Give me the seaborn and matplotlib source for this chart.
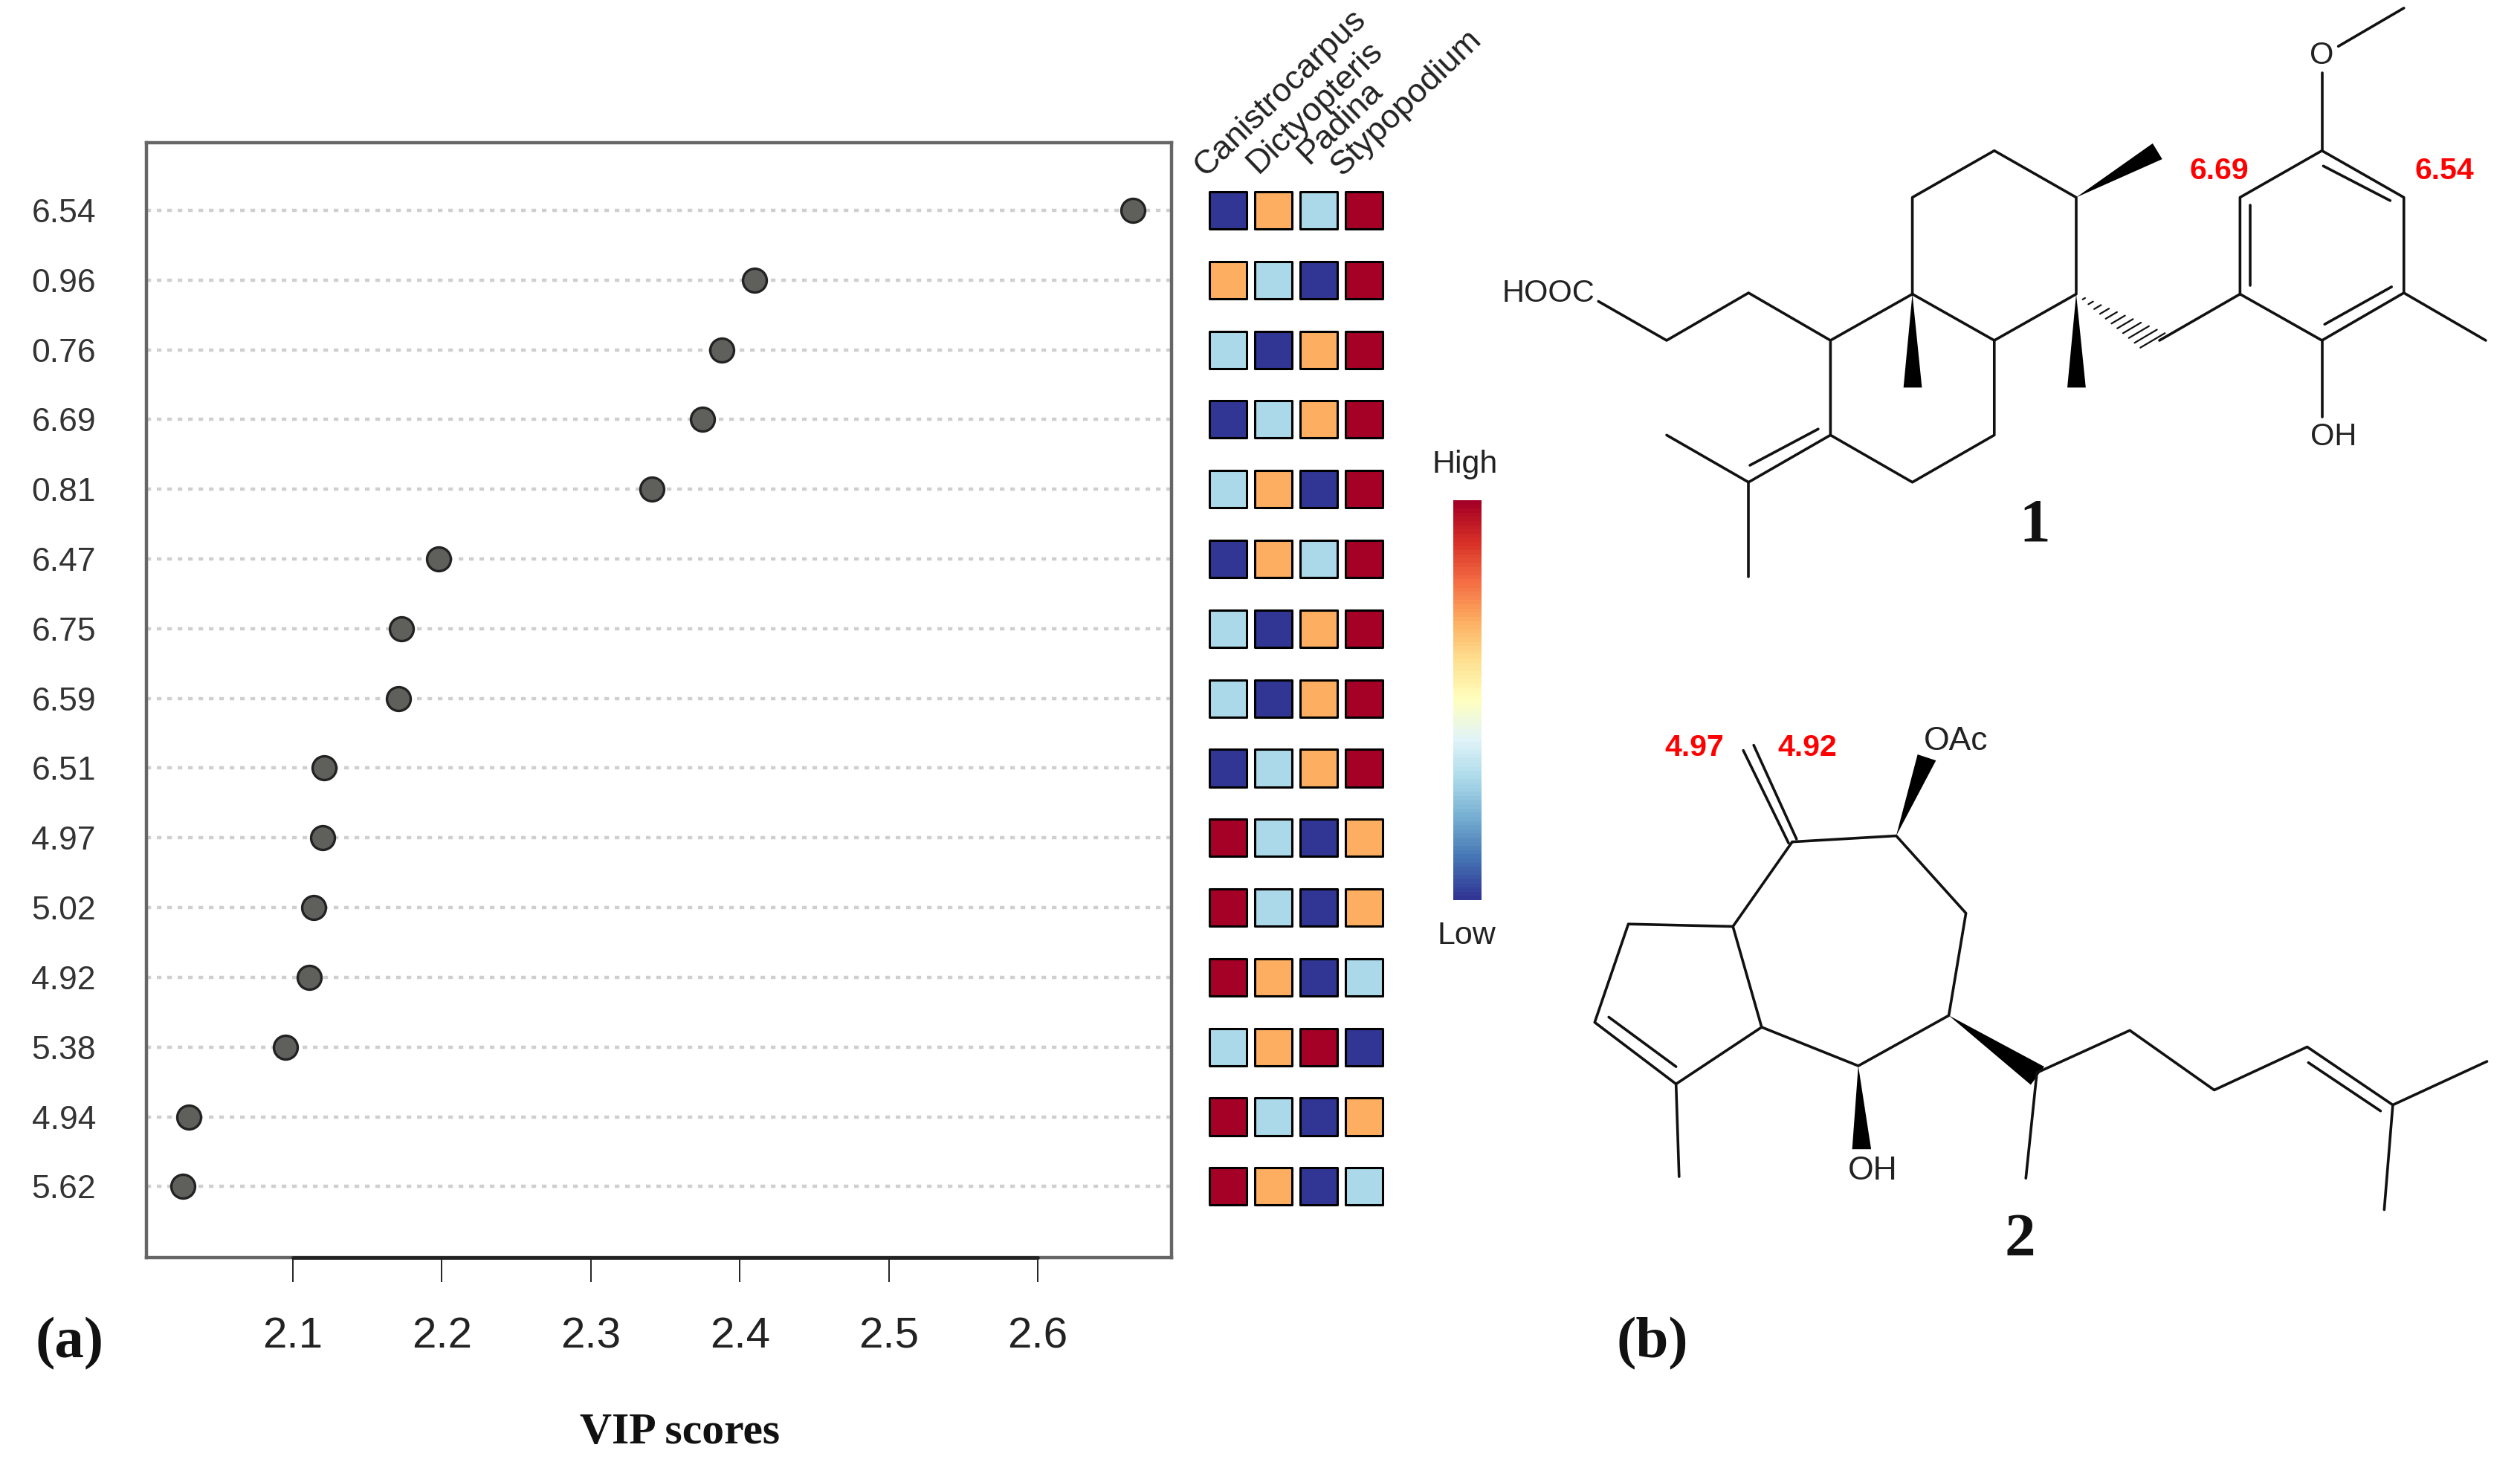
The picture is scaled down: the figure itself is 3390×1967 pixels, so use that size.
import numpy as np
import pandas as pd
import matplotlib
matplotlib.use("Agg")
import matplotlib.pyplot as plt
from matplotlib.patches import Polygon
import seaborn as sns

# ---------- data ----------
ppm_labels = ["6.54", "0.96", "0.76", "6.69", "0.81", "6.47", "6.75", "6.59",
              "6.51", "4.97", "5.02", "4.92", "5.38", "4.94", "5.62"]
vip_scores = [2.664, 2.410, 2.388, 2.375, 2.341, 2.198, 2.173, 2.171,
              2.121, 2.120, 2.114, 2.111, 2.095, 2.030, 2.026]
species = ["Canistrocarpus", "Dictyopteris", "Padina", "Stypopodium"]
# relative level per species: 0 low ... 3 high
canistrocarpus = [0, 2, 1, 0, 1, 0, 1, 1, 0, 3, 3, 3, 1, 3, 3]
dictyopteris   = [2, 1, 0, 1, 2, 2, 0, 0, 1, 1, 1, 2, 2, 1, 2]
padina         = [1, 0, 2, 2, 0, 1, 2, 2, 2, 0, 0, 0, 3, 0, 0]
stypopodium    = [3, 3, 3, 3, 3, 3, 3, 3, 3, 2, 2, 1, 0, 2, 1]
level_colors = ["#313695", "#abd9e9", "#fdae61", "#a50026"]
x_ticks = [2.1, 2.2, 2.3, 2.4, 2.5, 2.6]
x_tick_labels = ["2.1", "2.2", "2.3", "2.4", "2.5", "2.6"]

# ---------- layout helpers ----------
W, H = 3390, 1967
sns.set_theme(style="white")
plt.rcParams["font.family"] = ["Liberation Sans", "DejaVu Sans"]
SERIF = ["Liberation Serif", "DejaVu Serif"]
fig = plt.figure(figsize=(W / 100, H / 100), dpi=100, facecolor="white")

def axes_px(l, t, r, b):
    return fig.add_axes([l / W, 1 - b / H, (r - l) / W, (b - t) / H])

rows = list(range(len(ppm_labels)))
row_lim = (15.02, -0.97)
AX_T, AX_B = 192, 1692

# ---------- dot chart ----------
ax = axes_px(197, AX_T, 1576, AX_B)
df = pd.DataFrame({"vip": vip_scores, "row": rows})
ax.set_axisbelow(True)
ax.grid(False)
for r in rows:
    ax.axhline(r, color="#cfcfcf", lw=3.2, ls=(0, (1.4, 1.75)), zorder=1)
sns.scatterplot(data=df, x="vip", y="row", ax=ax, color="#5f605c", s=530,
                edgecolor="#222222", linewidth=2.4, zorder=3, legend=False)
ax.set_xlim(2.1 - (394 - 197) / 2004, 2.1 + (1576 - 394) / 2004)
ax.set_ylim(*row_lim)
ax.set_xticks(x_ticks)
ax.set_xticklabels(x_tick_labels, fontsize=42, color="#222222")
ax.set_yticks(rows)
ax.set_yticklabels(ppm_labels, fontsize=32, color="#333333")
ax.tick_params(axis="x", length=24, width=1.4, color="#222222", pad=33, bottom=True)
ax.tick_params(axis="y", length=0, pad=49)
for s in ax.spines.values():
    s.set_color("#666666")
    s.set_linewidth(3.2)
ax.plot(x_ticks[::5], [row_lim[0]] * 2, color="#222222", lw=3.4, clip_on=False, zorder=5)
ax.set_xlabel("VIP scores", fontsize=43, fontweight="bold", family=SERIF, color="#111111", va="center")
ax.xaxis.set_label_coords((915 - 197) / (1576 - 197), -(1928 - AX_B) / (AX_B - AX_T))
ax.set_ylabel("")

# ---------- level squares ----------
hax = axes_px(1621.5, AX_T, 1865.5, AX_B)
long = pd.DataFrame({
    "species": np.repeat(species, len(rows)),
    "row": rows * len(species),
    "level": canistrocarpus + dictyopteris + padina + stypopodium,
})
long["col"] = long["species"].map({n: i for i, n in enumerate(species)})
sns.scatterplot(data=long, x="col", y="row", hue="level", palette=level_colors,
                marker="s", s=1300, edgecolor="black", linewidth=2.2, ax=hax, legend=False)
hax.set_xlim(-0.5, 3.5)
hax.set_ylim(*row_lim)
hax.axis("off")

# ---------- colour key ----------
cax = axes_px(1955, 673, 1993, 1211)
gradient = np.linspace(1, 0, 96).reshape(-1, 1)
sns.heatmap(gradient, cmap="RdYlBu_r", vmin=0, vmax=1, cbar=False, ax=cax,
            xticklabels=False, yticklabels=False, rasterized=True)

# ---------- pixel overlay for text and structures ----------
ov = fig.add_axes([0, 0, 1, 1], facecolor="none")
ov.set_xlim(0, W)
ov.set_ylim(H, 0)
ov.axis("off")

ov.text(1971, 625, "High", fontsize=31, ha="center", va="center", color="#222222")
ov.text(1973, 1259, "Low", fontsize=31, ha="center", va="center", color="#222222")

species_anchor = [(1621, 239), (1692, 235), (1760, 222), (1806, 238)]
for name, (sx, sy) in zip(species, species_anchor):
    ov.text(sx, sy, name, fontsize=32.5, rotation=44, rotation_mode="anchor",
            ha="left", va="baseline", color="#222222")

ov.text(94, 1808, "(a)", fontsize=57, fontweight="bold", family=SERIF,
        ha="center", va="center", color="#111111")
ov.text(2223, 1808, "(b)", fontsize=57, fontweight="bold", family=SERIF,
        ha="center", va="center", color="#111111")

# structure 1, coordinates in crop units
def p1(a):
    return (1950 + a[0] / 1.089, a[1] / 1.845)

def p2(a):
    return (2100 + a[0] / 1.2155, 950 + a[1] / 1.845)

def bonds(chain, conv, lw=2.6):
    pts = [conv(c) for c in chain]
    ov.plot([q[0] for q in pts], [q[1] for q in pts], color="#111111", lw=lw,
            solid_capstyle="round", solid_joinstyle="round")

def wedge(tri, conv):
    ov.add_patch(Polygon([conv(c) for c in tri], closed=True, color="black", lw=0))

s1_chains = [
    [(678, 730), (678, 490), (798, 374), (918, 490), (918, 730), (798, 845), (678, 730)],
    [(678, 730), (558, 845), (558, 1080), (678, 1197), (798, 1080), (798, 845)],
    [(558, 845), (438, 727), (318, 845), (218, 748)],
    [(558, 1080), (438, 1197), (318, 1080)],
    [(438, 1197), (438, 1432)],
    [(540, 1065), (440, 1155)],
    [(1040, 845), (1158, 730), (1158, 490), (1278, 374), (1398, 490), (1398, 727), (1278, 845), (1158, 730)],
    [(1173, 510), (1173, 708)],
    [(1280, 412), (1378, 498)],
    [(1380, 712), (1282, 805)],
    [(1278, 374), (1278, 180)],
    [(1302, 115), (1398, 20)],
    [(1398, 727), (1518, 845)],
    [(1278, 845), (1278, 1035)],
]
for c in s1_chains:
    bonds(c, p1)
for tri in ([(918, 490), (1030, 356), (1044, 395)],
            [(678, 730), (665, 962), (692, 962)],
            [(918, 730), (905, 962), (932, 962)]):
    wedge(tri, p1)
# hashed bond
for f in np.linspace(0.1, 1.0, 11):
    cx, cy = 918 + f * 112, 730 + f * 115
    half = f * 24
    bonds([(cx + half * 0.75, cy - half * 0.75), (cx - half * 0.75, cy + half * 0.75)], p1, lw=1.6)

for txt, a in [("HOOC", (145, 729)), ("O", (1278, 139)), ("OH", (1295, 1084))]:
    x, y = p1(a)
    ov.text(x, y, txt, fontsize=30, ha="center", va="center", color="#222222")
for txt, a in [("6.69", (1127, 425)), ("6.54", (1458, 425))]:
    x, y = p1(a)
    ov.text(x, y, txt, fontsize=29.5, fontweight="bold", ha="center", va="center", color="#ff0000")
x, y = p1((857, 1306))
ov.text(x, y, "1", fontsize=60, fontweight="bold", family=SERIF, ha="center", va="center", color="#111111")

s2_chains = [
    [(378, 337), (548, 322), (662, 514), (634, 768), (486, 893), (328, 797), (281, 547), (378, 337)],
    [(281, 547), (110, 541), (55, 785), (188, 938), (328, 797)],
    [(78, 772), (188, 895)],
    [(188, 938), (193, 1168)],
    [(385, 330), (315, 97)],
    [(372, 340), (298, 110)],
    [(778, 910), (760, 1172)],
    [(778, 910), (930, 805), (1068, 953), (1220, 846), (1360, 990), (1514, 882)],
    [(1222, 885), (1340, 1005)],
    [(1360, 990), (1346, 1250)],
]
for c in s2_chains:
    bonds(c, p2)
for tri in ([(548, 322), (583, 120), (613, 135)],
            [(486, 893), (476, 1100), (507, 1100)],
            [(634, 768), (790, 895), (768, 940)]):
    wedge(tri, p2)
for txt, a in [("OAc", (645, 88)), ("OH", (510, 1154))]:
    x, y = p2(a)
    ov.text(x, y, txt, fontsize=32, ha="center", va="center", color="#222222")
for txt, a in [("4.97", (218, 104)), ("4.92", (403, 104))]:
    x, y = p2(a)
    ov.text(x, y, txt, fontsize=29.5, fontweight="bold", ha="center", va="center", color="#ff0000")
x, y = p2((750, 1327))
ov.text(x, y, "2", fontsize=60, fontweight="bold", family=SERIF, ha="center", va="center", color="#111111")

fig.savefig("out.png", dpi=100, facecolor="white")
